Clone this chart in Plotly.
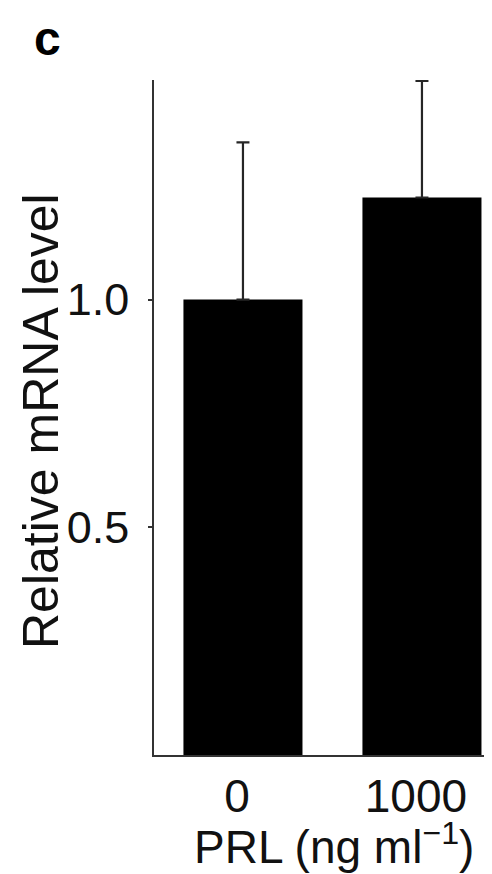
import plotly.graph_objects as go

categories = ["0", "1000"]
values = [1.0, 1.224]
errors_up = [0.345, 0.256]
y_tick_vals = [0.5, 1.0]
y_tick_text = ["0.5", "1.0"]

FONT = "Liberation Sans, Arial, sans-serif"
W, H = 492, 874
L, R, T, B = 146, 0, 72, 127
PW, PH = W - L - R, H - T - B


def px_x(x):
    return (x - L) / PW


def px_y(y):
    return (H - B - y) / PH


fig = go.Figure()
fig.add_trace(go.Bar(
    x=categories,
    y=values,
    width=0.665,
    marker=dict(color="#000000", line=dict(width=0)),
    error_y=dict(
        type="data",
        symmetric=False,
        array=errors_up,
        arrayminus=[0, 0],
        color="#262626",
        thickness=2.2,
        width=6.5,
    ),
    showlegend=False,
))

fig.update_layout(
    width=W,
    height=H,
    margin=dict(l=L, r=R, t=T, b=B, autoexpand=False),
    paper_bgcolor="white",
    plot_bgcolor="white",
    font=dict(family=FONT, color="#111111"),
    xaxis=dict(
        type="category",
        range=[-0.497, 1.436],
        automargin=False,
        showgrid=False,
        zeroline=False,
        showline=True,
        linecolor="#333333",
        linewidth=1.5,
        ticks="",
        tickfont=dict(size=46, family=FONT, color="#111111"),
        ticklabelshift=-6,
    ),
    yaxis=dict(
        range=[0, 1.482],
        automargin=False,
        showgrid=False,
        zeroline=False,
        showline=True,
        linecolor="#333333",
        linewidth=1.5,
        ticks="outside",
        ticklen=4,
        tickwidth=1.5,
        tickcolor="#333333",
        tickvals=y_tick_vals,
        ticktext=y_tick_text,
        ticklabelstandoff=10,
        tickfont=dict(size=45, family=FONT, color="#111111"),
    ),
    annotations=[
        dict(text="<b>c</b>", x=px_x(24), y=px_y(2), xref="paper", yref="paper",
             showarrow=False, xanchor="left", yanchor="top",
             font=dict(size=48, family=FONT, color="#000000")),
        dict(text="Relative mRNA level", x=px_x(33), y=px_y(413),
             xref="paper", yref="paper", showarrow=False, textangle=-90,
             xanchor="center", yanchor="middle",
             font=dict(size=50, family=FONT, color="#111111")),
        dict(text="PRL (ng ml<sup>\u22121</sup>)", x=px_x(326), y=px_y(836),
             xref="paper", yref="paper", showarrow=False,
             xanchor="center", yanchor="middle",
             font=dict(size=46, family=FONT, color="#111111")),
    ],
)

fig.write_html("out.html")
